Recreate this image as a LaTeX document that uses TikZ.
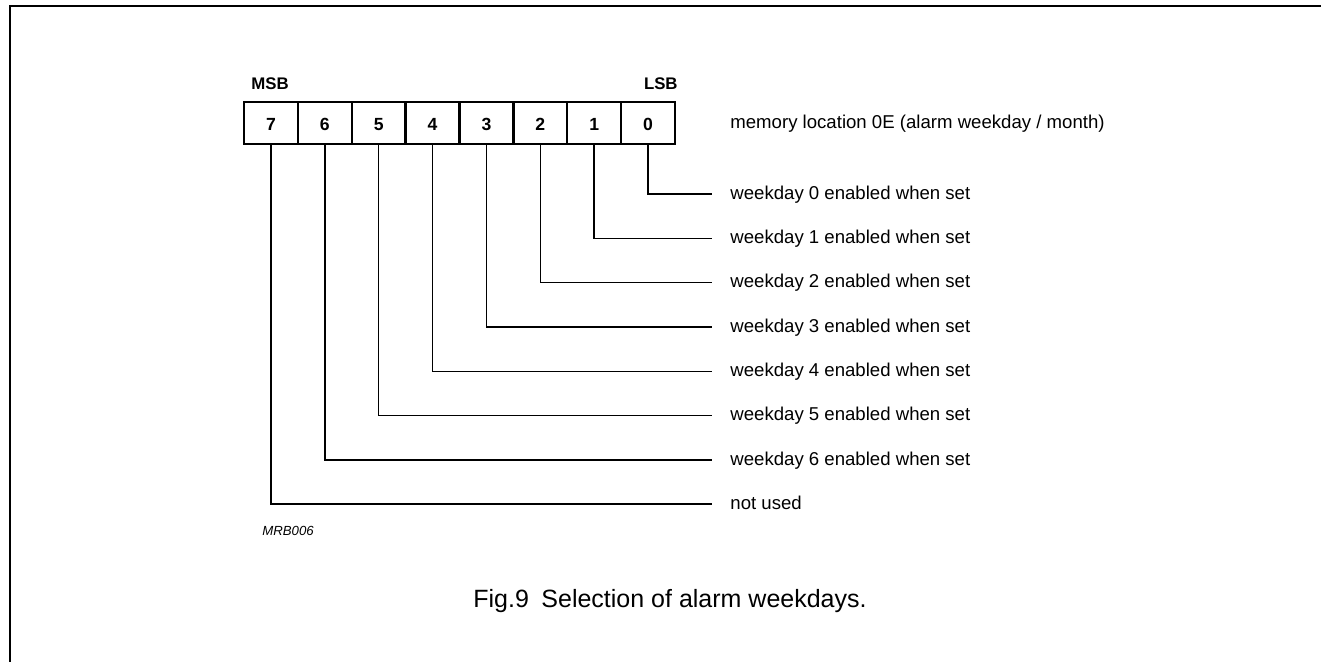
\documentclass[tikz,border=0pt]{standalone}
\usepackage{fontspec}
\setmainfont{Liberation Sans}
\begin{document}
\begin{tikzpicture}[x=0.5pt,y=-0.5pt,
  cell/.style={draw,line width=1.2pt,minimum width=26.94pt,minimum height=21pt,inner sep=0pt,
    text height=0.72em,text depth=0pt,
    font=\fontsize{8.8pt}{10pt}\selectfont\bfseries},
  conn/.style={line width=0.7pt},
  lbl/.style={anchor=west,inner xsep=9pt,inner ysep=0pt,text height=0.73em,text depth=0.21em,
    font=\fontsize{9.3pt}{11pt}\selectfont},
  hdr/.style={inner sep=0pt,font=\fontsize{8.4pt}{10pt}\selectfont\bfseries},
  frame/.style={line width=1.4pt}]
\useasboundingbox (0,0) rectangle (1321,662);
% frame
\coordinate (fa) at (10,662);
\coordinate (fb) at (10,6);
\coordinate (fc) at (1321,6);
\draw[frame] (fa) -- (fb) -- (fc);
% cells
\foreach \b in {7,...,0}{
  \node[cell] (c\b) at ({244+53.875*(7-\b)+26.94},123) {\b};
}
\node[hdr,anchor=base west] (msb) at (251,90) {MSB};
\node[hdr,anchor=base east] (lsb) at (678,90) {LSB};
\node[lbl,inner xsep=0pt] (mem) at (730,123) {memory location 0E (alarm weekday / month)};
% connectors
\foreach \b/\t in {0/weekday 0 enabled when set,1/weekday 1 enabled when set,2/weekday 2 enabled when set,
  3/weekday 3 enabled when set,4/weekday 4 enabled when set,5/weekday 5 enabled when set,
  6/weekday 6 enabled when set,7/not used}{
  \coordinate (e\b) at (712,{194+44.3*\b});
  \node[lbl] (l\b) at (e\b) {\t};
  \draw[conn] (c\b.south) |- (e\b);
}
\node[inner sep=0pt,anchor=west,font=\fontsize{6.6pt}{8pt}\selectfont\itshape] (mrb) at (262,531) {MRB006};
\node[inner sep=0pt,font=\fontsize{12.5pt}{15pt}\selectfont] (cap) at (670,601) {Fig.9\hspace{0.5em}Selection of alarm weekdays.};
\end{tikzpicture}
\end{document}
